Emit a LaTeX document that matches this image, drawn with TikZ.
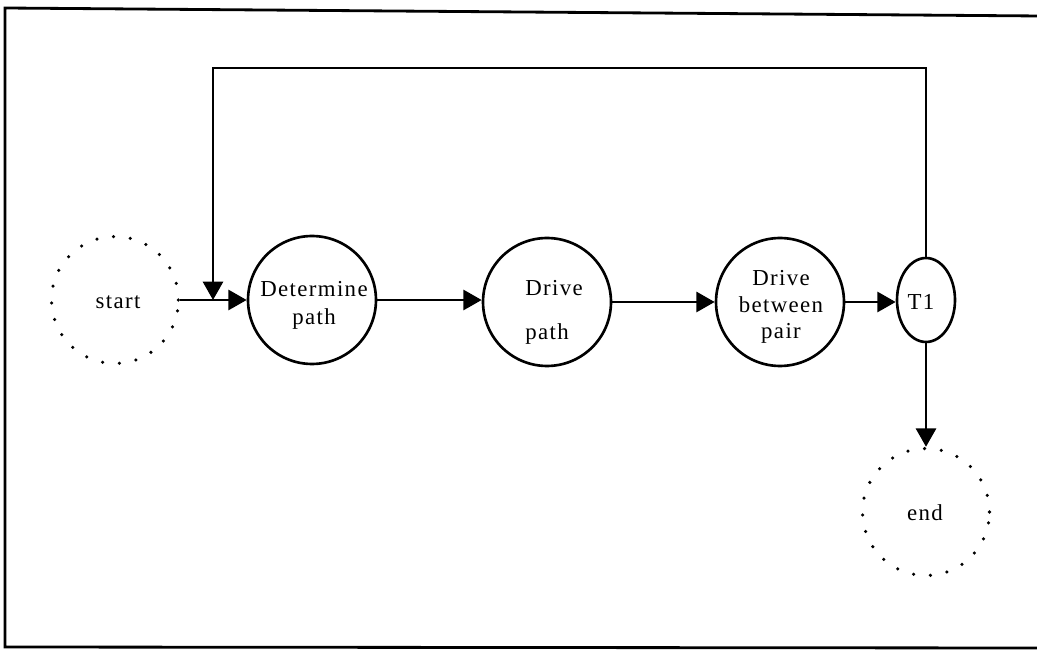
\documentclass[tikz,border=0pt]{standalone}
\usepackage{fontspec}
\setmainfont{Liberation Serif}[LetterSpace=6]
\usetikzlibrary{arrows.meta,shapes.geometric}
\tikzset{
  proc/.style={circle,draw,line width=1.5pt,minimum size=2.56cm,inner sep=0pt},
  term/.style={circle,draw,line width=2pt,dash pattern=on 0pt off 9.6pt,line cap=round,minimum size=2.54cm,inner sep=0pt},
  txt/.style={font=\fontsize{13}{17}\selectfont,inner sep=0pt,align=center},
  conn/.style={line width=1.5pt,-{Triangle[length=10.5pt,width=11.5pt]}},
  frame/.style={line width=1.6pt}
}
\begin{document}
\begin{tikzpicture}[x=0.02cm,y=-0.02cm]
\useasboundingbox (0,0) rectangle (1037,651);
\draw[frame] (1040,16) -- (5,8) -- (5,647) -- (1040,648);
% nodes
\node[term] (start) at (115,300) {};
\node[txt] (starttxt) at (118,302) {start};
\node[proc] (det) at (312,300) {};
\node[txt] (dettxt) at (314,305) {Determine\\[-1pt]path};
\node[proc] (drv) at (547,302) {};
\node[txt,align=left] (drvtxt) at (554,312) {Drive\\[8pt]path};
\node[proc] (btw) at (780,302) {};
\node[txt] (btwtxt) at (781,307) {Drive\\[-2pt]between\\[-2pt]pair};
\node[ellipse,draw,line width=1.5pt,minimum width=1.16cm,minimum height=1.68cm,inner sep=0pt] (t1) at (926,300) {};
\node[txt] (t1txt) at (921,302) {T1};
\node[term] (end) at (926,512) {};
\node[txt] (endtxt) at (925,513) {end};
% connectors
\draw[conn] (start.east) -- (det.west);
\draw[conn] (det.east) -- (drv.west |- det.east);
\draw[conn] (drv.east) -- (btw.west |- drv.east);
\draw[conn] (btw.east) -- (t1.west |- btw.east);
\draw[conn] (t1.south) -- (end.north);
\coordinate (fbtop) at (926,68);
\coordinate (fbleft) at (213,68);
\coordinate (fbend) at (213,300);
\draw[conn] (t1.north) -- (fbtop) -- (fbleft) -- (fbend);
\end{tikzpicture}
\end{document}
